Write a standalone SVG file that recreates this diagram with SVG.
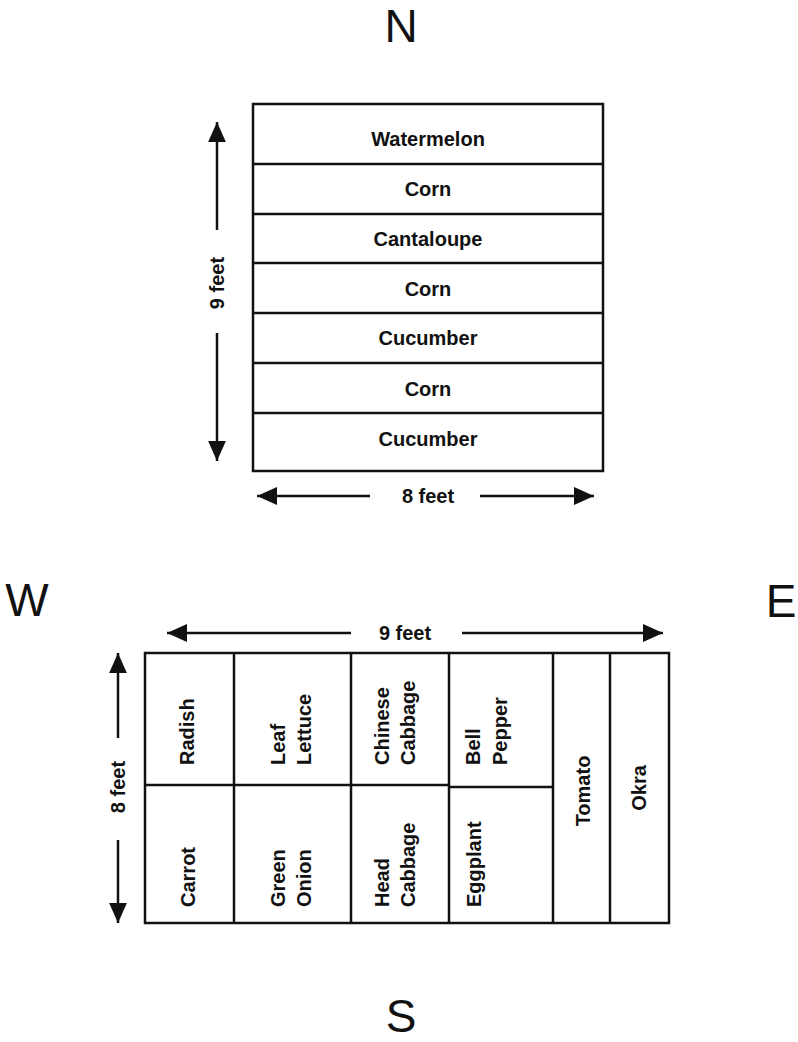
<svg xmlns="http://www.w3.org/2000/svg" width="798" height="1042" viewBox="0 0 798 1042">
<style>
.b{fill:none;stroke:#111;stroke-width:2.5}
.l{stroke:#111;stroke-width:2.5;fill:none}
.t{font-family:"Liberation Sans",Arial,sans-serif;font-weight:bold;font-size:20px;fill:#111}
.c{text-anchor:middle}
.d{font-family:"Liberation Sans",Arial,sans-serif;font-size:46px;fill:#111;text-anchor:middle}
</style>
<defs>
<marker id="ah" markerUnits="userSpaceOnUse" markerWidth="20" markerHeight="18" refX="18" refY="8" orient="auto" viewBox="0 0 18 16">
<path d="M0,0 L18,8 L0,16 z" fill="#111"/>
</marker>
</defs>
<rect width="798" height="1042" fill="#fff"/>
<g id="compass">
<text class="d" x="401" y="42">N</text>
<text class="d" x="27" y="616">W</text>
<text class="d" x="781" y="617">E</text>
<text class="d" x="401" y="1032">S</text>
</g>
<g id="north-plot">
<rect class="b" x="253" y="104" width="350" height="367"/>
<path class="l" d="M253,164H603M253,214H603M253,263H603M253,313H603M253,363H603M253,413H603"/>
<g class="t c">
<text x="428" y="146">Watermelon</text>
<text x="428" y="196">Corn</text>
<text x="428" y="246">Cantaloupe</text>
<text x="428" y="296">Corn</text>
<text x="428" y="345">Cucumber</text>
<text x="428" y="396">Corn</text>
<text x="428" y="446">Cucumber</text>
</g>
</g>
<g id="south-plot">
<rect class="b" x="145" y="653" width="524" height="270"/>
<path class="l" d="M234,653V923M351,653V923M449,653V923M553,653V923M610,653V923M145,785H449M449,787H553"/>
<g class="t">
<text transform="translate(194,765) rotate(-90)">Radish</text>
<text transform="translate(285,765) rotate(-90)"><tspan x="0">Leaf</tspan><tspan x="0" dy="26">Lettuce</tspan></text>
<text transform="translate(389,765) rotate(-90)"><tspan x="0">Chinese</tspan><tspan x="0" dy="26">Cabbage</tspan></text>
<text transform="translate(480,765) rotate(-90)"><tspan x="0">Bell</tspan><tspan x="0" dy="27">Pepper</tspan></text>
<text transform="translate(195,907) rotate(-90)">Carrot</text>
<text transform="translate(285,907) rotate(-90)"><tspan x="0">Green</tspan><tspan x="0" dy="26">Onion</tspan></text>
<text transform="translate(389,907) rotate(-90)"><tspan x="0">Head</tspan><tspan x="0" dy="26">Cabbage</tspan></text>
<text transform="translate(481,907) rotate(-90)">Eggplant</text>
<text class="c" transform="translate(590,791) rotate(-90)">Tomato</text>
<text class="c" transform="translate(646,788) rotate(-90)">Okra</text>
</g>
</g>
<g id="connectors">
<line class="l" x1="217" y1="230" x2="217" y2="122" marker-end="url(#ah)"/>
<line class="l" x1="217" y1="333" x2="217" y2="461" marker-end="url(#ah)"/>
<line class="l" x1="370" y1="496" x2="257" y2="496" marker-end="url(#ah)"/>
<line class="l" x1="480" y1="496" x2="594" y2="496" marker-end="url(#ah)"/>
<line class="l" x1="351" y1="633" x2="167" y2="633" marker-end="url(#ah)"/>
<line class="l" x1="462" y1="633" x2="663" y2="633" marker-end="url(#ah)"/>
<line class="l" x1="118" y1="738" x2="118" y2="653" marker-end="url(#ah)"/>
<line class="l" x1="118" y1="840" x2="118" y2="923" marker-end="url(#ah)"/>
</g>
<g id="dimension-labels" class="t">
<text class="c" transform="translate(224,283) rotate(-90)">9 feet</text>
<text class="c" x="428" y="503">8 feet</text>
<text class="c" x="405" y="640">9 feet</text>
<text class="c" transform="translate(125,787) rotate(-90)">8 feet</text>
</g>
</svg>
